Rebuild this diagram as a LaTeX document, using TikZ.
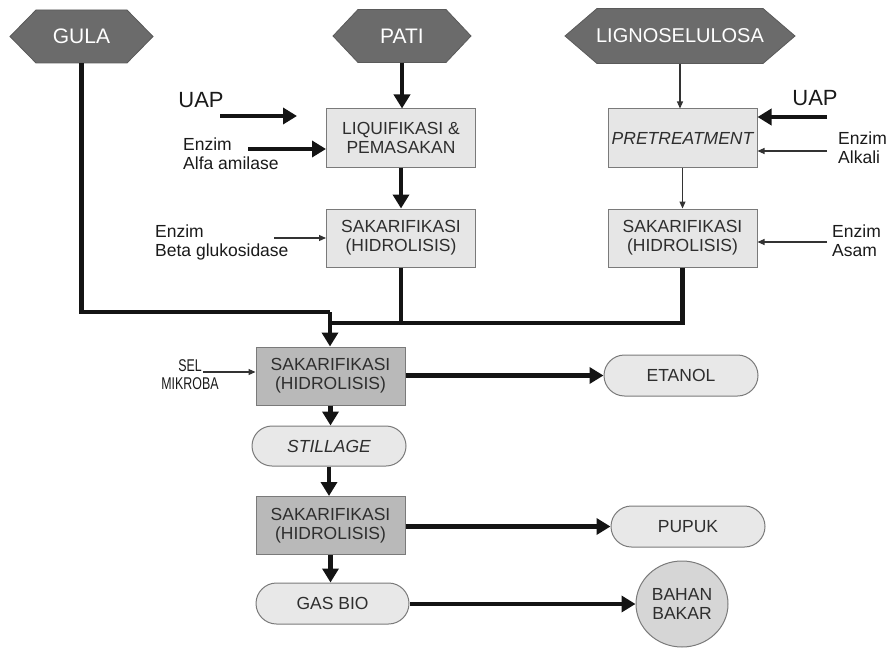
\documentclass[tikz,border=0pt]{standalone}
\usepackage{graphicx}
\usepackage{fontspec}
\setmainfont{Liberation Sans}
\usetikzlibrary{arrows.meta,shapes.geometric,shapes.misc,calc}

\definecolor{hexfill}{HTML}{6B6B6B}
\definecolor{hexline}{HTML}{5A5A5A}
\definecolor{lightfill}{HTML}{E6E6E6}
\definecolor{darkfill}{HTML}{B9B9B9}
\definecolor{termfill}{HTML}{E8E8E8}
\definecolor{circfill}{HTML}{D6D6D6}
\definecolor{boxline}{HTML}{7A7A7A}
\definecolor{txt}{HTML}{2E2E2E}
\definecolor{lbl}{HTML}{1A1A1A}

\newcommand\hexnode[8]{%
  \filldraw[fill=hexfill, draw=hexline, line width=0.8pt]
    ({#2-#4/2},#3) -- ({#2-#4/2+#6},{#3-#5/2}) -- ({#2+#4/2-#6},{#3-#5/2})
    -- ({#2+#4/2},#3) -- ({#2+#4/2-#6},{#3+#5/2}) -- ({#2-#4/2+#6},{#3+#5/2}) -- cycle;
  \node[hextext, minimum width=#4pt, minimum height=#5pt, font=\fontsize{#8}{23}\selectfont] (#1) at (#2,#3) {#7};}

\begin{document}
\begin{tikzpicture}[x=1pt,y=-1pt,
  hextext/.style={inner sep=0pt, text=white},
  procbox/.style={draw=boxline, fill=lightfill, line width=1pt, minimum width=149pt,
    minimum height=58pt, inner sep=0pt, align=center, text=txt,
    font=\fontsize{17.5}{19}\selectfont},
  darkbox/.style={procbox, fill=darkfill},
  termbox/.style={rounded rectangle, draw=boxline, fill=termfill, line width=1pt,
    minimum width=154pt, minimum height=41pt, inner sep=0pt, text=txt,
    font=\fontsize{17.5}{19}\selectfont},
  circbox/.style={ellipse, draw=boxline, fill=circfill, line width=1pt,
    minimum width=92pt, minimum height=86pt, inner sep=0pt, align=center, text=txt,
    font=\fontsize{17.5}{19}\selectfont},
  lbltext/.style={inner sep=0pt, align=left, text=lbl, font=\fontsize{17.5}{18.5}\selectfont},
  uaptext/.style={inner sep=0pt, text=lbl, font=\fontsize{22}{24}\selectfont},
  thickline/.style={line width=4.5pt, draw=black!92},
  thickarrow/.style={thickline, -{Triangle[length=14pt,width=16pt]}},
  thinarrow/.style={line width=1.1pt, draw=black!80, -{Triangle[length=7pt,width=6pt]}},
]
\useasboundingbox (0,0) rectangle (888,650);

% hexagons
\hexnode{gula}{81.5}{36.5}{143}{53}{26}{GULA}{21}
\hexnode{pati}{402}{36}{138}{53}{25}{PATI}{21}
\hexnode{ligno}{680}{36}{230}{55}{32}{LIGNOSELULOSA}{20}

% process boxes
\node[procbox] (liq) at (401,138) {LIQUIFIKASI \&\\PEMASAKAN};
\node[procbox] (sak1) at (401,238) {SAKARIFIKASI\\(HIDROLISIS)};
\node[procbox] (pre) at (682.5,138) {\itshape PRETREATMENT};
\node[procbox] (sak2) at (682.5,238) {SAKARIFIKASI\\(HIDROLISIS)};
\node[darkbox] (sak3) at (330.5,376) {SAKARIFIKASI\\(HIDROLISIS)};
\node[darkbox] (sak4) at (330.5,525.5) {SAKARIFIKASI\\(HIDROLISIS)};

% terminals
\node[termbox] (etanol) at (681,375.5) {ETANOL};
\node[termbox, minimum height=40pt] (still) at (329,446) {\itshape STILLAGE};
\node[termbox] (pupuk) at (688,526.5) {PUPUK};
\node[termbox, minimum width=153pt] (gas) at (332.5,603.5) {GAS BIO};
\node[circbox] (bahan) at (682,604) {BAHAN\\BAKAR};

% labels
\node[uaptext] (uapL) at (201,100) {UAP};
\node[uaptext] (uapR) at (815,98) {UAP};
\node[lbltext, anchor=north west] (alfa) at (183,138) {Enzim\\Alfa amilase};
\node[lbltext, anchor=north west] (beta) at (155,225) {Enzim\\Beta glukosidase};
\node[lbltext, anchor=north west] (alkali) at (838,132) {Enzim\\Alkali};
\node[lbltext, anchor=north west] (asam) at (832,225) {Enzim\\Asam};
\node[inner sep=0pt, text=lbl] (sel) at (190,377)
  {\scalebox{0.73}[1]{\fontsize{17}{17.5}\selectfont\begin{tabular}{@{}c@{}}SEL\hspace{27pt}\\MIKROBA\end{tabular}}};

% free ends
\coordinate (uapLs) at (220,116);
\coordinate (uapLe) at (297,116);
\coordinate (alfaS) at (248,149);
\coordinate (betaS) at (274,238);
\coordinate (uapRs) at (827,117);
\coordinate (alkS) at (827,151);
\coordinate (asamS) at (827,242);
\coordinate (selS) at (203,372);
\coordinate (j1) at (330,312);
\coordinate (j2) at (330,323);

% connectors top
\draw[thickarrow] (pati.south) -- (pati.south |- liq.north);
\draw[thickarrow] (uapLs) -- (uapLe);
\draw[thickarrow] (alfaS) -- (alfaS -| liq.west);
\draw[thickarrow] (liq.south) -- (sak1.north);
\draw[thinarrow] (betaS) -- (betaS -| sak1.west);

\draw[thinarrow] (ligno.south) -- (ligno.south |- pre.north);
\draw[thickarrow] (uapRs) -- (uapRs -| pre.east);
\draw[thinarrow] (alkS) -- (alkS -| pre.east);
\draw[thinarrow] (pre.south) -- (sak2.north);
\draw[thinarrow] (asamS) -- (asamS -| sak2.east);

% merge
\draw[thickline] (gula.south) |- (j1);
\draw[thickline] (sak1.south) -- (sak1.south |- j2);
\draw[thickline] (sak2.south) |- (j2);
\draw[thickarrow] (j1) -- (j1 |- sak3.north);

% lower column
\draw[thinarrow] (selS) -- (selS -| sak3.west);
\draw[thickarrow] (sak3.east |- etanol.west) -- (etanol.west);
\draw[thickarrow] (sak3.south) -- (sak3.south |- still.north);
\draw[thickarrow] (still.south) -- (still.south |- sak4.north);
\draw[thickarrow] (sak4.east |- pupuk.west) -- (pupuk.west);
\draw[thickarrow] (sak4.south) -- (sak4.south |- gas.north);
\draw[thickarrow] (gas.east |- bahan.west) -- (bahan.west);
\end{tikzpicture}
\end{document}
